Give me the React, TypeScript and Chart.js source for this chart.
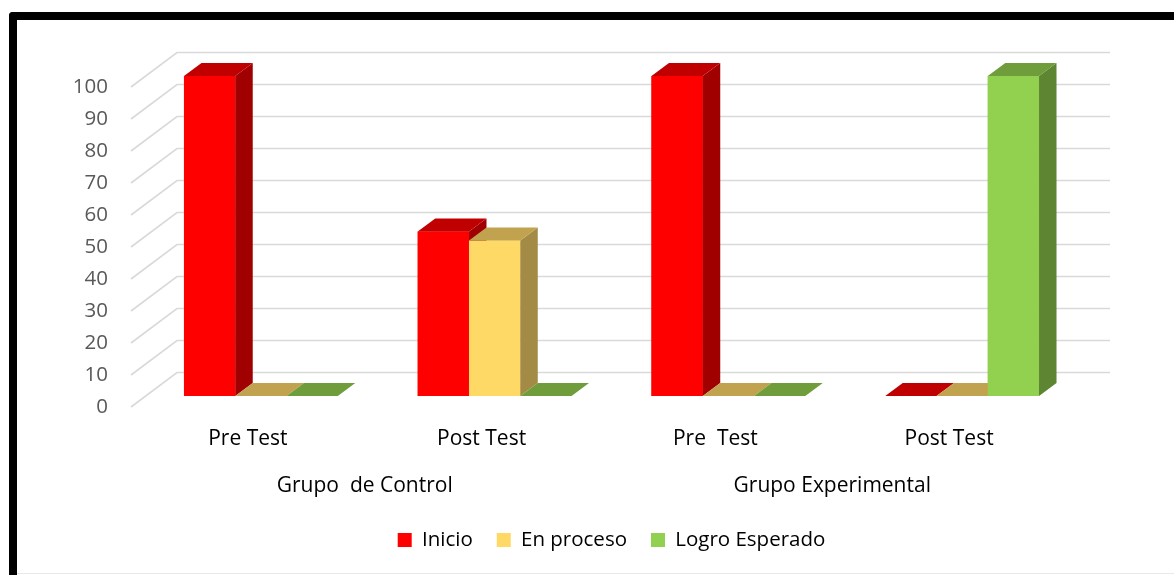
import { useEffect, useRef } from 'react';
import { Chart, registerables } from 'chart.js';

Chart.register(...registerables);

// ---- data ----
const categories = ['Pre Test', 'Post Test', 'Pre  Test', 'Post Test'];
const groupLabels = ['Grupo  de Control', 'Grupo Experimental'];
const seriesNames = ['Inicio', 'En proceso', 'Logro Esperado'];
const inicio = [100, 51.4, 100, 0];
const enProceso = [0, 48.6, 0, 0];
const logroEsperado = [0, 0, 0, 100];
const yMin = 0;
const yMax = 100;
const yStep = 10;

// ---- styles ----
const faceColors = [
  { front: '#FF0000', top: '#C00000', side: '#A00000', floor: '#C00000' },
  { front: '#FFD966', top: '#C1A34F', side: '#A38B46', floor: '#C1A34F' },
  { front: '#92D050', top: '#6F9D3B', side: '#5E8531', floor: '#6F9D3B' },
];
const DX = 17.5;
const DY = -13;
const FONT = "'Open Sans', sans-serif";

const bars3d = {
  id: 'bars3d',
  beforeDatasetsDraw(chart: any) {
    const { ctx, chartArea, scales } = chart;
    const y = scales.y;
    ctx.save();
    ctx.strokeStyle = '#D9D9D9';
    ctx.lineWidth = 1.6;
    y.ticks.forEach((t: any) => {
      const fy = y.getPixelForValue(t.value);
      ctx.beginPath();
      ctx.moveTo(chartArea.left - 13, fy + 11);
      ctx.lineTo(chartArea.left + 33, fy - 23.5);
      ctx.lineTo(chartArea.right + 31, fy - 23.5);
      ctx.stroke();
    });
    ctx.restore();
  },
  afterDatasetsDraw(chart: any) {
    const ctx = chart.ctx;
    const n = chart.data.labels.length;
    const poly = (pts: number[][], color: string) => {
      ctx.beginPath();
      ctx.moveTo(pts[0][0], pts[0][1]);
      for (let k = 1; k < pts.length; k++) ctx.lineTo(pts[k][0], pts[k][1]);
      ctx.closePath();
      ctx.fillStyle = color;
      ctx.fill();
    };
    ctx.save();
    for (let i = 0; i < n; i++) {
      chart.data.datasets.forEach((_ds: any, d: number) => {
        const meta = chart.getDatasetMeta(d);
        const el = meta.data[i];
        if (!el) return;
        const { x, y, base, width } = el.getProps(['x', 'y', 'base', 'width'], true);
        const l = x - width / 2;
        const r = x + width / 2;
        const c = faceColors[d];
        if (Math.abs(base - y) < 0.5) {
          poly([[l, base], [r, base], [r + DX, base + DY], [l + DX, base + DY]], c.floor);
        } else {
          ctx.fillStyle = c.front;
          ctx.fillRect(l, y, width, base - y);
          poly([[r, y], [r + DX, y + DY], [r + DX, base + DY], [r, base]], c.side);
          poly([[l, y], [r, y], [r + DX, y + DY], [l + DX, y + DY]], c.top);
        }
      });
    }
    ctx.restore();
  },
};

export default function App() {
  const ref = useRef<HTMLCanvasElement>(null);

  useEffect(() => {
    if (!ref.current) return;
    const chart = new Chart(ref.current, {
      type: 'bar',
      data: {
        labels: categories,
        datasets: [
          { label: seriesNames[0], data: inicio, backgroundColor: faceColors[0].front, borderWidth: 0 },
          { label: seriesNames[1], data: enProceso, backgroundColor: faceColors[1].front, borderWidth: 0 },
          { label: seriesNames[2], data: logroEsperado, backgroundColor: faceColors[2].front, borderWidth: 0 },
        ],
      },
      options: {
        responsive: false,
        animation: false,
        devicePixelRatio: 1,
        datasets: { bar: { categoryPercentage: 0.658, barPercentage: 1 } },
        layout: { padding: { left: 0, right: 95, top: 76, bottom: 14.75 } },
        plugins: {
          legend: {
            position: 'bottom',
            fullSize: false,
            labels: {
              boxWidth: 14,
              boxHeight: 14,
              padding: 24,
              color: '#000000',
              font: { family: FONT, size: 20.5 },
            },
          },
          tooltip: { enabled: false },
        },
        scales: {
          x: {
            type: 'category',
            offset: true,
            weight: 0,
            grid: { display: false, drawTicks: false },
            border: { display: false },
            ticks: {
              color: '#000000',
              font: { family: FONT, size: 21 },
              padding: 30,
              labelOffset: -13,
              maxRotation: 0,
              autoSkip: false,
            },
            afterFit: (s: any) => { s.height = 52; },
          },
          x2: {
            type: 'category',
            labels: groupLabels,
            position: 'bottom',
            offset: true,
            weight: 1,
            grid: { display: false, drawTicks: false },
            border: { display: false },
            ticks: {
              color: '#000000',
              font: { family: FONT, size: 21 },
              padding: 25.5,
              labelOffset: -13,
              maxRotation: 0,
              autoSkip: false,
            },
            afterFit: (s: any) => { s.height = 57.75; },
          },
          y: {
            min: yMin,
            max: yMax,
            grid: { display: false, drawTicks: false },
            border: { display: false },
            ticks: {
              stepSize: yStep,
              color: '#595959',
              font: { family: FONT, size: 20.5 },
              padding: 36,
              labelOffset: 11,
            },
            afterFit: (s: any) => { s.width = 144; },
          },
        },
      } as any,
      plugins: [bars3d],
    });
    return () => chart.destroy();
  }, []);

  return (
    <div style={{ position: 'absolute', left: 0, top: 0, width: 1174, height: 575, background: '#ffffff', overflow: 'hidden' }}>
      <div
        style={{
          position: 'absolute',
          left: 9,
          top: 12,
          width: 1200,
          height: 600,
          borderLeft: '8px solid #000',
          borderTop: '8px solid #000',
          borderTopLeftRadius: 4,
          boxSizing: 'border-box',
        }}
      />
      <div style={{ position: 'absolute', left: 17, top: 573, width: 1157, height: 1, background: '#E8E8E8' }} />
      <canvas ref={ref} width={1174} height={575} style={{ position: 'absolute', left: 0, top: 0 }} />
    </div>
  );
}
